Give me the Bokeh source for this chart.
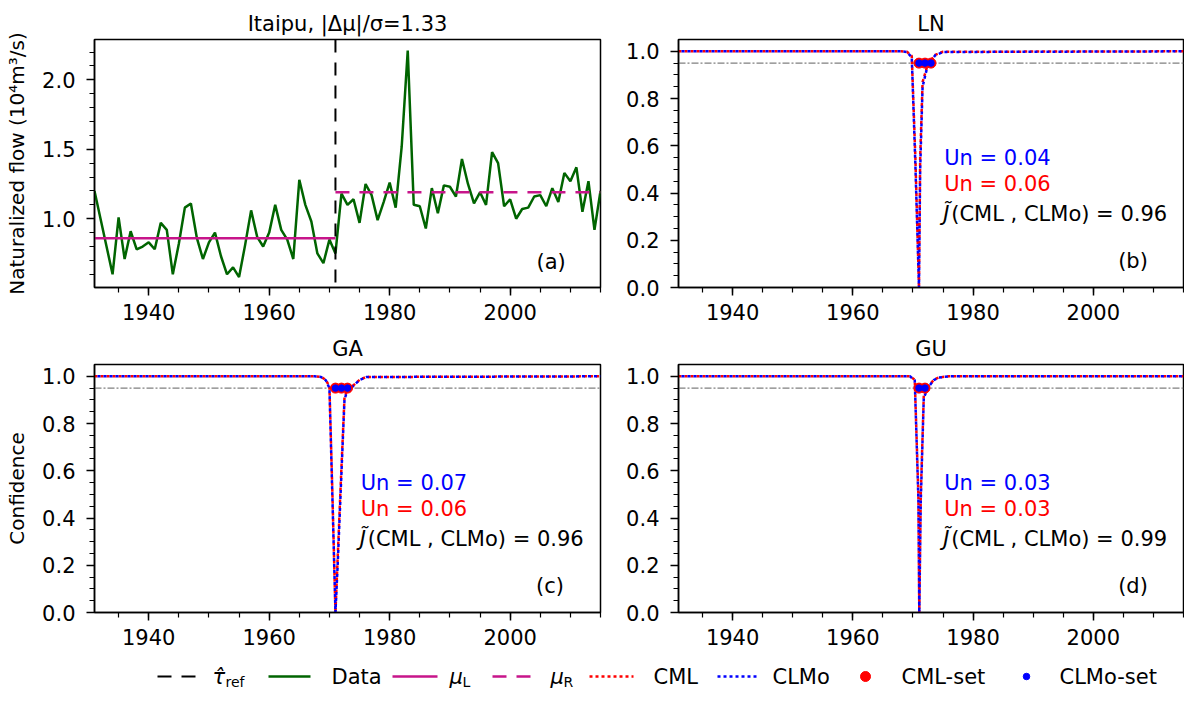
from bokeh.plotting import figure
from bokeh.layouts import column, row
from bokeh.models import Range1d, FixedTicker, PrintfTickFormatter, Label, Span
from bokeh.embed import file_html
from bokeh.resources import INLINE
from bokeh.core.properties import value

# ---------------- data ----------------
years = list(range(1931, 2016))
flow = [1.20, 1.00, 0.80, 0.60, 1.01, 0.71, 0.91, 0.78, 0.80, 0.83,
        0.78, 0.97, 0.92, 0.60, 0.82, 1.08, 1.11, 0.86, 0.71, 0.83,
        0.90, 0.73, 0.60, 0.65, 0.58, 0.81, 1.06, 0.87, 0.80, 0.90,
        1.10, 0.92, 0.85, 0.71, 1.28, 1.10, 0.98, 0.75, 0.68, 0.85,
        0.75, 1.18, 1.10, 1.14, 0.97, 1.25, 1.17, 0.99, 1.12, 1.26,
        1.08, 1.52, 2.21, 1.10, 1.09, 0.93, 1.22, 1.04, 1.24, 1.23,
        1.16, 1.43, 1.25, 1.11, 1.19, 1.10, 1.48, 1.40, 1.09, 1.14,
        1.00, 1.07, 1.08, 1.16, 1.17, 1.09, 1.22, 1.12, 1.33, 1.27,
        1.37, 1.05, 1.27, 0.92, 1.20]
tau_ref = 1971
mu_L = 0.86
mu_R = 1.19
conf_level = 0.95

# LN
ln_x = [1931, 1968.0, 1969.0, 1969.8, 1970.4, 1971.0, 1971.2, 1971.6, 1972.3, 1972.9, 1973.7, 1975.0, 2015]
ln_cml = [1.0, 1.0, 0.998, 0.98, 0.55, 0.0, 0.55, 0.87, 0.93, 0.96, 0.985, 0.998, 1.0]
ln_clmo = [1.0, 1.0, 0.997, 0.975, 0.52, 0.0, 0.50, 0.85, 0.925, 0.955, 0.983, 0.997, 1.0]
ln_set = [1971, 1972, 1973]
# GA
ga_x = [1931, 1967.5, 1968.6, 1969.4, 1970.0, 1970.5, 1971.0, 1971.4, 1971.8, 1972.5, 1972.9, 1973.9, 1975.0, 1976.1, 2015]
ga_cml = [1.0, 1.0, 0.998, 0.985, 0.957, 0.50, 0.0, 0.25, 0.50, 0.91, 0.94, 0.96, 0.985, 0.997, 1.0]
ga_clmo = [1.0, 1.0, 0.997, 0.983, 0.950, 0.48, 0.0, 0.22, 0.47, 0.90, 0.935, 0.958, 0.984, 0.997, 1.0]
ga_set = [1971, 1972, 1973]
# GU
gu_x = [1931, 1969.5, 1970.3, 1970.9, 1971.05, 1971.3, 1971.8, 1972.6, 1973.45, 1974.3, 1976.0, 2015]
gu_cml = [1.0, 1.0, 0.985, 0.50, 0.0, 0.50, 0.92, 0.958, 0.985, 0.995, 1.0, 1.0]
gu_clmo = [1.0, 1.0, 0.983, 0.48, 0.0, 0.47, 0.91, 0.955, 0.984, 0.995, 1.0, 1.0]
gu_set = [1971, 1972]

un_clmo = [0.04, 0.07, 0.03]
un_cml = [0.06, 0.06, 0.03]
jac = [0.96, 0.96, 0.99]

FONT = "DejaVu Sans"
TICK_FS = "21px"
TXT_FS = "21px"
GREEN = "#006400"
MAG = "#c7158a"


def style(p, ylab=None):
    p.grid.visible = False
    p.outline_line_color = "black"
    p.outline_line_width = 1.5
    p.outline_line_alpha = 1.0
    p.background_fill_color = "white"
    p.border_fill_color = "white"
    p.title.text_font = FONT
    p.title.text_font_size = "21px"
    p.title.text_font_style = "normal"
    p.title.text_color = "black"
    p.title.align = "center"
    p.title.standoff = 8
    for ax in p.axis:
        ax.major_label_text_font = FONT
        ax.major_label_text_font_size = TICK_FS
        ax.major_label_text_color = "black"
        ax.axis_line_width = 1.5
        ax.axis_line_color = "black"
        ax.major_tick_line_width = 1.5
        ax.minor_tick_line_width = 1.2
        ax.major_tick_line_color = "black"
        ax.minor_tick_line_color = "black"
        ax.major_tick_out = 8
        ax.major_tick_in = 0
        ax.minor_tick_out = 5
        ax.minor_tick_in = 0
        ax.axis_label_text_font = FONT
        ax.axis_label_text_font_size = "20px"
        ax.axis_label_text_font_style = "normal"
        ax.axis_label_text_color = "black"
    p.xaxis.major_label_standoff = 8
    p.yaxis.major_label_standoff = 11
    p.xaxis.ticker = FixedTicker(ticks=[1940, 1960, 1980, 2000],
                                 minor_ticks=list(range(1935, 2016, 5)))
    if ylab:
        p.yaxis.axis_label = ylab
        p.yaxis.axis_label_standoff = 10


def fig(w, h, bl, br, bt, bb, yr, title):
    p = figure(width=w, height=h, x_range=Range1d(years[0], years[-1]), y_range=yr,
               output_backend="svg", toolbar_location=None,
               min_border_left=bl, min_border_right=br, min_border_top=bt, min_border_bottom=bb,
               title=title)
    return p


# ---------------- panel (a) ----------------
pa = fig(608, 329, 94, 8, 39, 42, Range1d(0.505, 2.29), "Itaipu, |Δμ|/σ=1.33")
style(pa, "Naturalized flow (10⁴m³/s)")
pa.yaxis.ticker = FixedTicker(ticks=[1.0, 1.5, 2.0],
                              minor_ticks=[0.6 + 0.1 * i for i in range(17)])
pa.yaxis.formatter = PrintfTickFormatter(format="%.1f")
pa.add_layout(Span(location=tau_ref, dimension="height", line_color="black",
                   line_width=2, line_dash="13 10"))
pa.line(years, flow, line_color=GREEN, line_width=2.5)
pa.line([years[0], tau_ref], [mu_L, mu_L], line_color=MAG, line_width=2.5)
pa.line([tau_ref, years[-1]], [mu_R, mu_R], line_color=MAG, line_width=2.5, line_dash="14 10")
pa.add_layout(Label(x=2006.8, y=0.69, text="(a)", text_font=FONT, text_font_size=TXT_FS,
                    text_align="center", text_baseline="middle", text_color="black"))


def conf_panel(w, h, bl, br, bt, bb, title, xs, cml, clmo, cset, k, letter, ylab=None):
    p = fig(w, h, bl, br, bt, bb, Range1d(0, 1.05), title)
    style(p, ylab)
    p.yaxis.ticker = FixedTicker(ticks=[0.0, 0.2, 0.4, 0.6, 0.8, 1.0],
                                 minor_ticks=[0.05 * i for i in range(21)])
    p.yaxis.formatter = PrintfTickFormatter(format="%.1f")
    p.add_layout(Span(location=conf_level, dimension="width", line_color="gray",
                      line_width=1.2, line_dash="7 2 2 2", level="underlay"))
    p.line(xs, cml, line_color="red", line_width=2.5, line_dash="3 3")
    p.line(xs, clmo, line_color="blue", line_width=2.5, line_dash="3 3", line_dash_offset=3)
    p.scatter(cset, [conf_level] * len(cset), size=10, color="red")
    p.scatter(cset, [conf_level] * len(cset), size=6.5, color="blue")
    tx = 1975.2
    p.add_layout(Label(x=tx, y=0.55, text="Un = %.2f" % un_clmo[k], text_color="blue",
                       text_font=FONT, text_font_size=TXT_FS, text_baseline="middle"))
    p.add_layout(Label(x=tx, y=0.437, text="Un = %.2f" % un_cml[k], text_color="red",
                       text_font=FONT, text_font_size=TXT_FS, text_baseline="middle"))
    p.add_layout(Label(x=tx, y=0.31, x_offset=-1, text="J\u0303", text_color="black",
                       text_font_style="italic",
                       text_font=FONT, text_font_size=TXT_FS, text_baseline="middle"))
    p.add_layout(Label(x=tx, y=0.31, x_offset=7, text="(CML , CLMo) = %.2f" % jac[k],
                       text_color="black", text_font=FONT, text_font_size=TXT_FS,
                       text_baseline="middle"))
    p.add_layout(Label(x=2006.6, y=0.113, text=letter, text_font=FONT, text_font_size=TXT_FS,
                       text_align="center", text_baseline="middle", text_color="black"))
    return p


pb = conf_panel(576, 329, 70, 1, 39, 42, "LN", ln_x, ln_cml, ln_clmo, ln_set, 0, "(b)")
pc = conf_panel(608, 325, 94, 8, 35, 42, "GA", ga_x, ga_cml, ga_clmo, ga_set, 1, "(c)", "Confidence")
pd_ = conf_panel(576, 325, 70, 1, 35, 42, "GU", gu_x, gu_cml, gu_clmo, gu_set, 2, "(d)")

# ---------------- legend strip ----------------
W, H = 1184, 36
pl = figure(width=W, height=H, x_range=Range1d(0, W), y_range=Range1d(0, H),
            output_backend="svg", toolbar_location=None, min_border=0,
            x_axis_type=None, y_axis_type=None)
pl.grid.visible = False
pl.outline_line_color = None
yc = 14
pl.line([157, 196], [yc, yc], line_color="black", line_width=2, line_dash="14 10")
pl.line([268, 310], [yc, yc], line_color=GREEN, line_width=2.5)
pl.line([392, 437], [yc, yc], line_color=MAG, line_width=2.5)
pl.line([492, 533], [yc, yc], line_color=MAG, line_width=2.5, line_dash="14 10")
pl.line([589, 633], [yc, yc], line_color="red", line_width=2.5, line_dash="3 3")
pl.line([717, 757], [yc, yc], line_color="blue", line_width=2.5, line_dash="3 3")
pl.scatter([865], [yc], size=10, color="red")
pl.scatter([1026], [yc], size=6.5, color="blue")
pl.text([212, 449, 550], [yc] * 3, text=["τ\u0302", "μ", "μ"], text_font=value(FONT),
        text_font_size=value("21px"), text_font_style="italic", text_baseline="middle")
pl.text([225, 462, 563], [yc - 5] * 3, text=["ref", "L", "R"], text_font=value(FONT),
        text_font_size=value("14px"), text_baseline="middle")
pl.text([331, 653, 772, 901, 1059], [yc] * 5, text=["Data", "CML", "CLMo", "CML-set", "CLMo-set"],
        text_font=value(FONT), text_font_size=value("21px"), text_baseline="middle")

layout = column(row(pa, pb), row(pc, pd_), pl)
open("out.html", "w").write(file_html(layout, INLINE))
